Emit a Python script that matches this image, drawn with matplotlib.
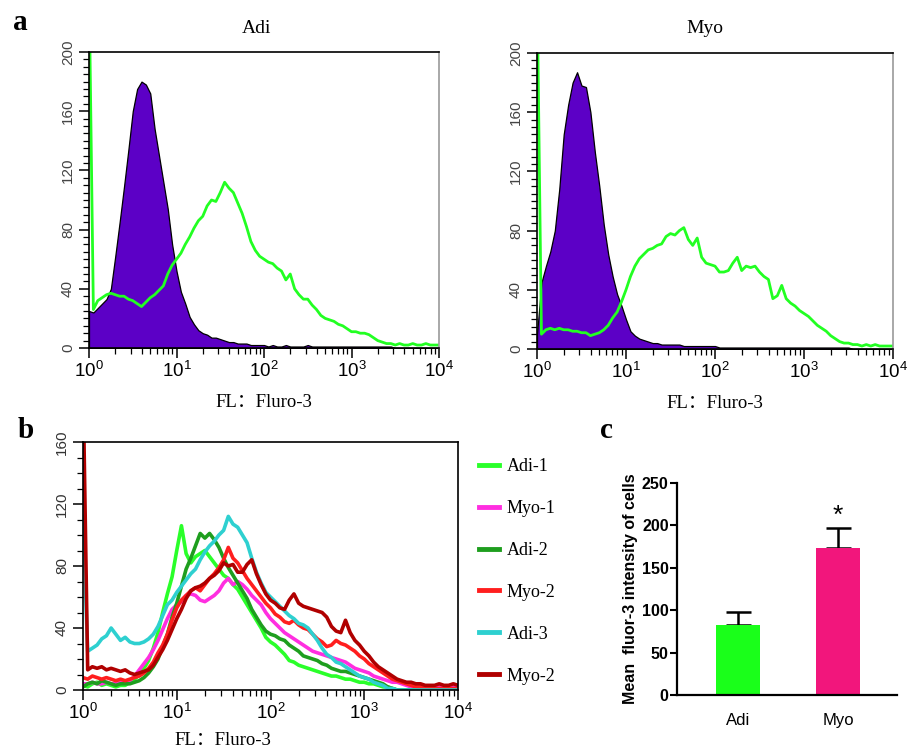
import numpy as np
import matplotlib
matplotlib.use('Agg')
import matplotlib.pyplot as plt
from matplotlib.ticker import MultipleLocator, LogLocator, NullFormatter

# ----------------------------------------------------------
# Dados (histogramas de citometria, passo de 0.05 decada)
# ----------------------------------------------------------
log_channel = np.arange(81) * 0.05          # 10^0 ... 10^4
channels = 10 ** log_channel

# painel a - Adi: controle (roxo) e Fluo-3 (verde)
adi_ctrl = [25, 24, 27, 30, 33, 40, 62, 85, 109, 134, 160, 175, 180, 178, 172, 148, 130, 112, 94, 70,
            52, 38, 30, 21, 16, 12, 10, 9, 7, 7, 6, 5, 4, 4, 3, 3, 3, 2, 2, 2,
            2, 1, 2, 1, 1, 2, 1, 1, 1, 1, 2, 1, 1, 1, 1, 1, 1, 1, 1, 1,
            1, 1, 1, 1, 1, 1, 1, 1, 1, 1, 0, 0, 0, 0, 0, 0, 0, 0, 0, 0,
            0]
adi_fluo = [250, 26, 32, 34, 36, 37, 36, 35, 35, 33, 32, 30, 28, 31, 34, 36, 39, 42, 50, 56,
            60, 64, 70, 75, 81, 86, 89, 96, 100, 99, 105, 112, 108, 105, 98, 91, 82, 72, 66, 62,
            60, 58, 57, 54, 52, 46, 50, 40, 36, 33, 33, 29, 26, 22, 20, 19, 18, 16, 15, 13,
            11, 11, 10, 10, 9, 7, 5, 4, 3, 3, 2, 3, 2, 2, 3, 2, 2, 3, 2, 2,
            2]

# painel a - Myo
myo_ctrl = [10, 45, 56, 66, 80, 108, 145, 165, 180, 187, 178, 177, 160, 133, 110, 84, 64, 49, 37, 29,
            20, 12, 9, 7, 6, 5, 4, 4, 3, 3, 3, 3, 3, 2, 2, 2, 2, 2, 2, 2,
            2, 1, 1, 1, 1, 1, 1, 1, 1, 1, 1, 1, 1, 1, 1, 1, 1, 1, 1, 1,
            1, 1, 1, 1, 1, 1, 1, 1, 1, 1, 1, 0, 0, 0, 0, 0, 0, 0, 0, 0,
            0]
myo_fluo = [250, 10, 13, 14, 13, 14, 13, 13, 12, 12, 11, 11, 9, 10, 11, 13, 16, 21, 25, 32,
            40, 49, 56, 61, 64, 67, 68, 70, 71, 76, 78, 77, 80, 82, 74, 70, 75, 62, 58, 57,
            56, 52, 52, 53, 58, 62, 53, 56, 55, 56, 52, 49, 47, 34, 36, 43, 34, 31, 29, 26,
            24, 22, 19, 16, 14, 12, 9, 7, 5, 4, 4, 3, 3, 2, 3, 2, 3, 2, 2, 2,
            2]

# painel b - sobreposicao das amostras
b_labels = ['Adi-1', 'Myo-1', 'Adi-2', 'Myo-2', 'Adi-3', 'Myo-2']
b_colors = ['#2aff2a', '#ff2ee0', '#1e9e1e', '#ff1e1e', '#2ed0d0', '#b00000']
adi_1 = [3, 2, 4, 5, 3, 4, 3, 2, 3, 3, 5, 7, 10, 14, 19, 27, 37, 50, 62, 73,
         90, 106, 88, 82, 86, 88, 90, 86, 82, 78, 74, 72, 68, 65, 60, 55, 50, 45, 40, 34,
         31, 29, 26, 23, 19, 18, 16, 15, 14, 13, 12, 11, 10, 9, 9, 8, 7, 7, 6, 5,
         5, 4, 4, 3, 2, 2, 1, 0, 0, 0, 0, 0, 0, 0, 0, 0, 0, 0, 0, 0,
         0]
myo_1 = [4, 4, 5, 4, 4, 5, 4, 4, 5, 5, 6, 9, 13, 17, 21, 26, 32, 39, 46, 52,
         55, 57, 61, 62, 61, 58, 57, 59, 61, 64, 69, 72, 68, 70, 68, 65, 61, 58, 55, 50,
         46, 43, 40, 37, 35, 33, 31, 29, 27, 25, 24, 23, 22, 21, 20, 19, 18, 16, 14, 13,
         12, 11, 9, 8, 7, 6, 5, 5, 4, 3, 2, 2, 2, 1, 1, 1, 2, 2, 2, 3,
         3]
adi_2 = [2, 4, 5, 4, 6, 5, 4, 3, 4, 4, 4, 5, 6, 8, 11, 15, 20, 28, 36, 47,
         56, 67, 78, 85, 93, 101, 98, 101, 97, 92, 85, 79, 74, 69, 64, 59, 52, 47, 42, 38,
         36, 35, 33, 32, 29, 27, 25, 22, 21, 20, 19, 17, 16, 14, 13, 12, 12, 11, 10, 9,
         8, 7, 6, 5, 4, 2, 1, 0, 0, 0, 0, 0, 0, 0, 0, 0, 0, 0, 0, 0,
         0]
myo_2 = [8, 7, 9, 8, 7, 8, 7, 6, 7, 6, 7, 8, 9, 11, 14, 18, 24, 29, 36, 45,
         53, 58, 61, 64, 66, 64, 68, 72, 75, 79, 84, 92, 85, 82, 77, 72, 68, 64, 60, 56,
         53, 49, 47, 44, 43, 45, 42, 40, 39, 36, 33, 31, 28, 29, 32, 30, 29, 27, 25, 22,
         20, 17, 15, 13, 11, 9, 7, 6, 5, 4, 3, 2, 2, 1, 1, 1, 1, 1, 1, 1,
         1]
adi_3 = [112, 25, 27, 29, 33, 35, 40, 36, 32, 34, 31, 30, 30, 31, 33, 36, 41, 48, 55, 58,
         63, 67, 71, 75, 78, 84, 89, 93, 96, 100, 103, 112, 107, 105, 100, 95, 85, 76, 69, 63,
         60, 57, 54, 51, 48, 46, 43, 42, 40, 36, 32, 27, 23, 21, 18, 17, 15, 13, 11, 9,
         8, 7, 5, 4, 3, 1, 1, 0, 0, 0, 0, 0, 0, 0, 0, 0, 0, 0, 0, 0,
         0]
myo_2b = [200, 13, 15, 14, 15, 13, 14, 13, 12, 13, 11, 10, 11, 12, 13, 16, 21, 26, 32, 39,
          46, 52, 59, 64, 66, 67, 69, 72, 74, 77, 82, 80, 81, 76, 76, 81, 84, 75, 68, 62,
          58, 56, 53, 52, 58, 62, 56, 54, 53, 52, 51, 50, 47, 41, 38, 37, 45, 37, 32, 29,
          25, 22, 18, 15, 13, 11, 9, 7, 6, 5, 5, 4, 4, 3, 3, 3, 4, 3, 3, 4,
          3]
b_series = [adi_1, myo_1, adi_2, myo_2, adi_3, myo_2b]

# painel c - media de fluorescencia
groups = ['Adi', 'Myo']
mean_fluo = [82, 173]
sem_fluo = [16, 24]
bar_colors = ['#1aff1a', '#f2167c']

decade_ticks = [1, 10, 100, 1000, 10000]
decade_labels = [r'$\mathregular{10^{%d}}$' % k for k in range(5)]

# ----------------------------------------------------------
# Estilo
# ----------------------------------------------------------
plt.rcParams['font.family'] = ['Liberation Sans', 'DejaVu Sans']
plt.rcParams['mathtext.fontset'] = 'custom'
plt.rcParams['mathtext.rm'] = 'Liberation Sans'
plt.rcParams['mathtext.it'] = 'Liberation Sans:italic'
plt.rcParams['mathtext.bf'] = 'Liberation Sans:bold'
SERIF = ['Liberation Serif', 'Noto Sans CJK SC', 'DejaVu Serif']
PURPLE = '#5c00c6'
LIME = '#22ff22'

fig = plt.figure(figsize=(9.09, 7.54), dpi=100)


def px_axes(left, top, right, bottom):
    return fig.add_axes([left / 909, 1 - bottom / 754, (right - left) / 909, (bottom - top) / 754])


def style_flow(ax, ymax, yminor, ysize, ycolor, grey_right):
    ax.set_xscale('log')
    ax.set_xlim(1, 1e4)
    ax.set_ylim(0, ymax)
    ax.set_xticks(decade_ticks, decade_labels)
    ax.xaxis.set_minor_locator(LogLocator(base=10, subs=np.arange(2, 10)))
    ax.xaxis.set_minor_formatter(NullFormatter())
    ax.set_yticks(np.arange(0, ymax + 1, 40))
    ax.yaxis.set_minor_locator(MultipleLocator(yminor))
    ax.tick_params(which='major', direction='out', length=7, width=1.1, labelsize=13.5, pad=2)
    ax.tick_params(which='minor', direction='out', length=4, width=0.9)
    ax.tick_params(axis='y', labelrotation=90, labelsize=ysize, labelcolor=ycolor, pad=3)
    for lab in ax.get_yticklabels():
        lab.set_va('center')
    for side in ['left', 'bottom', 'top', 'right']:
        ax.spines[side].set_linewidth(1.2)
    if grey_right:
        ax.spines['right'].set_color('#9a9a9a')
    ax.set_xlabel('FL：Fluro-3', family=SERIF, fontsize=13.5, labelpad=10)


# ----------------------------------------------------------
# Painel a
# ----------------------------------------------------------
ax_adi = px_axes(89, 52, 439, 348)
ax_myo = px_axes(537, 53, 893, 349)
for ax, ctrl, fluo in [(ax_adi, adi_ctrl, adi_fluo), (ax_myo, myo_ctrl, myo_fluo)]:
    ax.fill_between(channels, ctrl, facecolor=PURPLE, edgecolor='black', linewidth=0.9)
    ax.plot(channels, fluo, color=LIME, linewidth=2)
    style_flow(ax, 200, 5, 11, '#444444', True)

fig.text(256 / 909, 1 - 33 / 754, 'Adi', family=SERIF, fontsize=14, ha='center', va='baseline')
fig.text(705 / 909, 1 - 33 / 754, 'Myo', family=SERIF, fontsize=14, ha='center', va='baseline')

# ----------------------------------------------------------
# Painel b
# ----------------------------------------------------------
ax_b = px_axes(83, 442, 458, 690)
for vals, cor, nome in zip(b_series, b_colors, b_labels):
    ax_b.plot(channels, vals, color=cor, linewidth=2.6, label=nome)
style_flow(ax_b, 160, 10, 11, '#333333', False)
ax_b.xaxis.set_label_coords(0.373, -0.17)

leg = ax_b.legend(loc='upper left', bbox_to_anchor=(479 / 909, 1 - 458 / 754),
                  bbox_transform=fig.transFigure, frameon=False,
                  prop={'family': SERIF, 'size': 13}, handlelength=1.1,
                  handletextpad=0.45, labelspacing=1.38, borderpad=0, borderaxespad=0)
for h in leg.get_lines():
    h.set_linewidth(3.5)

# ----------------------------------------------------------
# Painel c
# ----------------------------------------------------------
ax_c = px_axes(677, 483, 897, 695)
xpos = np.arange(len(groups))
ax_c.bar(xpos, mean_fluo, width=0.44, color=bar_colors, zorder=2)
ax_c.errorbar(xpos, mean_fluo, yerr=[np.zeros(len(groups)), sem_fluo], fmt='none',
              ecolor='black', elinewidth=1.8, capsize=9, capthick=1.8, zorder=1)
ax_c.text(1, 211, '*', ha='center', va='center', fontsize=19)
ax_c.set_xlim(-0.61, 1.59)
ax_c.set_ylim(0, 250)
ax_c.set_yticks(np.arange(0, 251, 50))
ax_c.set_xticks(xpos, groups)
ax_c.spines['top'].set_visible(False)
ax_c.spines['right'].set_visible(False)
ax_c.spines['left'].set_linewidth(1.6)
ax_c.spines['bottom'].set_linewidth(1.6)
ax_c.tick_params(axis='y', direction='out', length=5, width=1.5, labelsize=11.5, pad=1)
ax_c.tick_params(axis='x', length=0, labelsize=12, pad=13)
for lab in ax_c.get_yticklabels():
    lab.set_fontweight('bold')
ax_c.set_ylabel('Mean  fluor-3 intensity of cells', fontweight='bold', fontsize=11.5, labelpad=3)

# letras dos paineis
fig.text(13 / 909, 1 - 30 / 754, 'a', family=SERIF, fontsize=21, fontweight='bold', va='baseline')
fig.text(18 / 909, 1 - 438 / 754, 'b', family=SERIF, fontsize=21, fontweight='bold', va='baseline')
fig.text(600 / 909, 1 - 438 / 754, 'c', family=SERIF, fontsize=21, fontweight='bold', va='baseline')

plt.savefig('out.png', dpi=100)
